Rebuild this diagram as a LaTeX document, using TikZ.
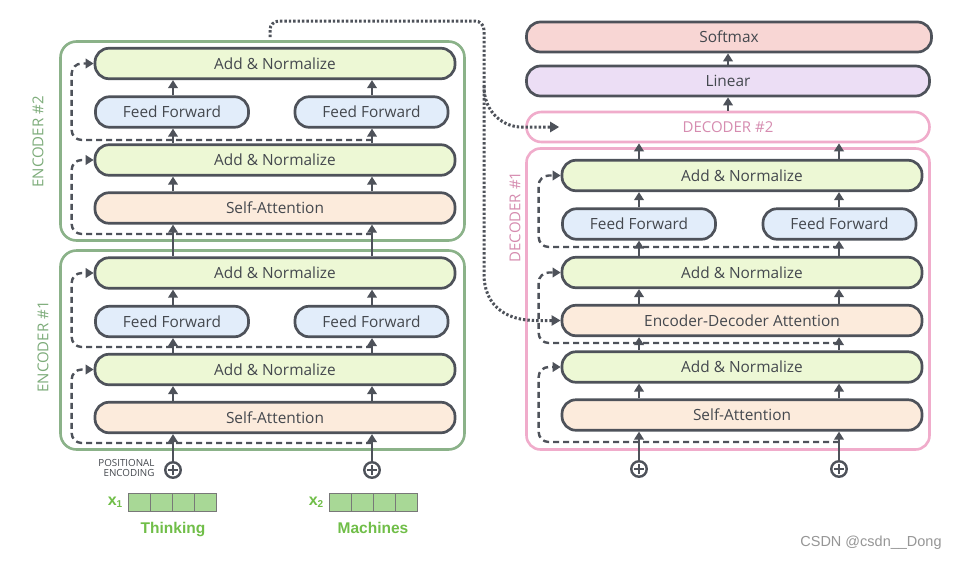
\documentclass[tikz,border=0pt]{standalone}
\usepackage{fontspec}
\setmainfont{Open Sans}
\newfontfamily\arialfont{Liberation Sans}
\usetikzlibrary{arrows.meta,calc}
\definecolor{ink}{RGB}{78,82,90}
\definecolor{txt}{RGB}{68,72,78}
\definecolor{anfill}{RGB}{237,248,213}
\definecolor{fffill}{RGB}{226,237,250}
\definecolor{safill}{RGB}{252,235,220}
\definecolor{smfill}{RGB}{248,214,212}
\definecolor{linfill}{RGB}{236,222,245}
\definecolor{encgreen}{RGB}{139,178,137}
\definecolor{enctext}{RGB}{125,172,122}
\definecolor{decpink}{RGB}{240,172,203}
\definecolor{dectext}{RGB}{214,140,176}
\definecolor{wordgreen}{RGB}{112,190,72}
\definecolor{cellfill}{RGB}{168,216,150}
\definecolor{cellline}{RGB}{120,120,120}
\definecolor{wmgray}{RGB}{150,150,150}
\tikzset{
  box/.style={draw=ink, line width=2.7pt, rounded corners=14pt, inner sep=0pt,
    font=\fontsize{15.4}{18}\selectfont, text=txt},
  anbox/.style={box, fill=anfill, minimum width=360pt, minimum height=30.5pt},
  ffbox/.style={box, fill=fffill, minimum width=153pt, minimum height=30.5pt},
  sabox/.style={box, fill=safill, minimum width=360pt, minimum height=30.5pt},
  encbox/.style={draw=encgreen, line width=2.6pt, rounded corners=16pt, minimum width=404pt, inner sep=0pt},
  decbox/.style={draw=decpink, line width=2.6pt, rounded corners=15pt, minimum width=403pt, inner sep=0pt},
  enclbl/.style={text=enctext, font=\fontsize{15}{18}\selectfont, rotate=90},
  declbl/.style={text=dectext, font=\fontsize{15}{18}\selectfont},
  arr/.style={draw=ink, line width=2.6pt, -{Triangle[length=8pt,width=9.5pt]}},
  dsh/.style={draw=ink, line width=2.4pt, dash pattern=on 6pt off 4pt, rounded corners=10pt,
    -{Triangle[length=8pt,width=9.5pt]}},
  dotl/.style={draw=ink, line width=3pt, dash pattern=on 2.4pt off 2pt, rounded corners=9pt},
  dotarr/.style={dotl, -{Triangle[length=9pt,width=10pt]}},
  pluscirc/.style={circle, draw=ink, line width=2.4pt, minimum size=15.5pt, inner sep=0pt,
    path picture={\draw[ink, line width=2.2pt]
      ([xshift=-5pt]path picture bounding box.center) -- ([xshift=5pt]path picture bounding box.center)
      ([yshift=-5pt]path picture bounding box.center) -- ([yshift=5pt]path picture bounding box.center);}},
  cell/.style={draw=cellline, line width=0.8pt, fill=cellfill, minimum width=22pt, minimum height=18pt, inner sep=0pt},
  word/.style={text=wordgreen, font=\arialfont\bfseries\fontsize{15.5}{18}\selectfont, anchor=base},
  xlbl/.style={text=wordgreen, font=\arialfont\bfseries\fontsize{16}{18}\selectfont},
}
\begin{document}
\begin{tikzpicture}[x=1pt,y=-1pt]
\useasboundingbox[fill=white] (0,0) rectangle (960,560);

% columns
\coordinate (ec1) at (173,0);
\coordinate (ec2) at (372,0);
\coordinate (dc1) at (639,0);
\coordinate (dc2) at (839,0);
\coordinate (dcm) at (728,0);

% encoder frames
\node[encbox, minimum height=199pt] (enc2) at (262.5,141) {};
\node[encbox, minimum height=199pt] (enc1) at (262.5,350) {};
\node[enclbl] (enc2lbl) at (38,142) {ENCODER \#2};
\node[enclbl] (enc1lbl) at (43,347) {ENCODER \#1};

% decoder frames
\node[decbox, minimum height=301pt, rounded corners=14pt] (dec1) at (728,299) {};
\node[decbox, minimum height=30pt, fill=white, declbl] (dec2) at (728,127) {DECODER \#2};
\node[declbl, rotate=90] (dec1lbl) at (515,217) {DECODER \#1};

% encoder 1
\node[anbox] (e1an2) at (275,273) {Add \& Normalize};
\node[ffbox] (e1ff1) at (172,321.5) {Feed Forward};
\node[ffbox] (e1ff2) at (371.5,321.5) {Feed Forward};
\node[anbox] (e1an1) at (275,369.5) {Add \& Normalize};
\node[sabox] (e1sa) at (275,417.5) {Self-Attention};

% encoder 2
\node[anbox] (e2an2) at (275,63.5) {Add \& Normalize};
\node[ffbox] (e2ff1) at (172,112) {Feed Forward};
\node[ffbox] (e2ff2) at (371.5,112) {Feed Forward};
\node[anbox] (e2an1) at (275,160) {Add \& Normalize};
\node[sabox] (e2sa) at (275,208) {Self-Attention};

% decoder top
\node[box, fill=smfill, minimum width=405pt, minimum height=30pt] (softmax) at (729,37) {Softmax};
\node[box, fill=linfill, minimum width=403pt, minimum height=30pt] (linear) at (728,81) {Linear};

% decoder 1
\node[anbox] (dan3) at (742,175.5) {Add \& Normalize};
\node[ffbox] (dff1) at (639,224) {Feed Forward};
\node[ffbox] (dff2) at (839.5,224) {Feed Forward};
\node[anbox] (dan2) at (742,272.5) {Add \& Normalize};
\node[sabox] (deda) at (742,320.5) {Encoder-Decoder Attention};
\node[anbox] (dan1) at (742,367) {Add \& Normalize};
\node[sabox] (dsa) at (742,415) {Self-Attention};

% plus circles
\node[pluscirc] (ep1) at (173,470) {};
\node[pluscirc] (ep2) at (372,470) {};
\node[pluscirc] (dp1) at (639,469) {};
\node[pluscirc] (dp2) at (839,469) {};

\node[text=txt, font=\fontsize{9.8}{10.5}\selectfont, align=right, anchor=east] (pe) at (158,468) {POSITIONAL\\ENCODING};

% input vectors
\foreach \i in {0,1,2,3}{
  \node[cell] (xa\i) at (139+22*\i,502) {};
  \node[cell] (xb\i) at (340+22*\i,502) {};
}
\node[xlbl] (x1) at (115,502) {x\raisebox{-2pt}{\fontsize{10}{10}\selectfont 1}};
\node[xlbl] (x2) at (316,502) {x\raisebox{-2pt}{\fontsize{10}{10}\selectfont 2}};
\node[word] (w1) at (173,533) {Thinking};
\node[word] (w2) at (373,533) {Machines};

% encoder arrows
\foreach \c in {ec1,ec2}{
  \draw[arr] (e1sa.north -| \c) -- (e1an1.south -| \c);
  \draw[arr] (e1an1.north -| \c) -- (e1ff1.south -| \c);
  \draw[arr] (e1ff1.north -| \c) -- (e1an2.south -| \c);
  \draw[arr] (e1an2.north -| \c) -- (e2sa.south -| \c);
  \draw[arr] (e2sa.north -| \c) -- (e2an1.south -| \c);
  \draw[arr] (e2an1.north -| \c) -- (e2ff1.south -| \c);
  \draw[arr] (e2ff1.north -| \c) -- (e2an2.south -| \c);
}
\draw[arr] (ep1.north) -- (e1sa.south -| ep1.north);
\draw[arr] (ep2.north) -- (e1sa.south -| ep2.north);

% encoder residuals
\coordinate (e1j1) at (372,443);
\coordinate (e1j2) at (372,347);
\coordinate (e2j1) at (372,234);
\coordinate (e2j2) at (372,140);
\draw[dsh] (e1j1) -| ($(e1an1.west)+(-22,0)$) -- (e1an1.west);
\draw[dsh] (e1j2) -| ($(e1an2.west)+(-22,0)$) -- (e1an2.west);
\draw[dsh] (e2j1) -| ($(e2an1.west)+(-22,0)$) -- (e2an1.west);
\draw[dsh] (e2j2) -| ($(e2an2.west)+(-22,0)$) -- (e2an2.west);

% decoder arrows
\foreach \c in {dc1,dc2}{
  \draw[arr] (dsa.north -| \c) -- (dan1.south -| \c);
  \draw[arr] (dan1.north -| \c) -- (deda.south -| \c);
  \draw[arr] (deda.north -| \c) -- (dan2.south -| \c);
  \draw[arr] (dan2.north -| \c) -- (dff1.south -| \c);
  \draw[arr] (dff1.north -| \c) -- (dan3.south -| \c);
  \draw[arr] (dan3.north -| \c) -- (dec2.south -| \c);
}
\draw[arr] (dp1.north) -- (dsa.south -| dp1.north);
\draw[arr] (dp2.north) -- (dsa.south -| dp2.north);
\draw[arr] (dec2.north -| dcm) -- (linear.south -| dcm);
\draw[arr] (linear.north -| dcm) -- (softmax.south -| dcm);

% decoder residuals
\coordinate (dj1) at (839,442);
\coordinate (dj2) at (839,343);
\coordinate (dj3) at (839,247);
\draw[dsh] (dj1) -| ($(dan1.west)+(-22,0)$) -- (dan1.west);
\draw[dsh] (dj2) -| ($(dan2.west)+(-22,0)$) -- (dan2.west);
\draw[dsh] (dj3) -| ($(dan3.west)+(-22,0)$) -- (dan3.west);

% encoder output to decoders
\coordinate (encout) at (270,37);
\coordinate (dec2in) at ($(dec2.west)+(34,0)$);
\draw[dotarr] (encout) -- (270,21) -- (484,21) -- (484,265)
  .. controls (484,305) and (505,320.5) .. (545,320.5) -- (deda.west);
\draw[dotarr] (484,86) .. controls (484,114) and (505,127) .. (530,127) -- (dec2in);

\node[text=wmgray, font=\arialfont\fontsize{14.5}{16}\selectfont] (wm) at (871,543) {CSDN @csdn\_\_Dong};
\end{tikzpicture}
\end{document}
